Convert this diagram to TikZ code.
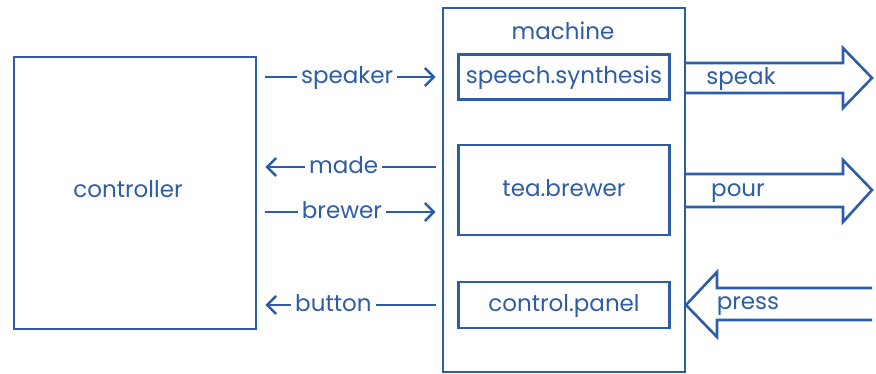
\documentclass[tikz,border=0pt]{standalone}
\usepackage{fontspec}
\setmainfont{Poppins}
\usepackage{tikz}
\usetikzlibrary{positioning, calc, arrows.meta}
\definecolor{inkBlue}{HTML}{2D5DA6}

\begin{document}
\begin{tikzpicture}[x=1pt, y=-1pt, line width=2.6pt, color=inkBlue,
    font=\fontsize{23}{26}\selectfont,
    every node/.style={text height=12.5pt, text depth=0pt},
    box/.style={draw, minimum width=211pt, minimum height=45pt, inner sep=0pt},
    flow/.style={-{Straight Barb[length=9pt, width=18pt, line width=2.6pt]}},
    lbl/.style={fill=white, inner xsep=4pt, inner ysep=3pt}]
    \useasboundingbox (0,0) rectangle (876,374);

    % the two blocks
    \node[draw, minimum width=242pt, minimum height=272pt] (controller) at (135,193) {};
    \node (controllerLbl) at (128,191) {controller};
    \node[draw, minimum width=242pt, minimum height=364pt] (machine) at (564,190) {};
    \node (machineLbl) at (563,33) {machine};

    \node[box] (synth) at (564,77) {speech.synthesis};
    \node[box, minimum height=90pt] (brewer) at (564,190) {tea.brewer};
    \node[box, minimum height=46pt] (panel) at (564,305) {control.panel};

    % wires between them
    \coordinate (cR) at ($(controller.east)+(8,0)$);
    \coordinate (mL) at ($(machine.west)+(-6,0)$);
    \coordinate (madeY) at ($(brewer.west)+(0,-23)$);
    \coordinate (brewY) at ($(brewer.west)+(0,22)$);

    \draw[flow] (cR |- synth) -- node[lbl, pos=0.48] {speaker} (mL |- synth);
    \draw[flow] (mL |- madeY) -- node[lbl, pos=0.54] {made} (cR |- madeY);
    \draw[flow] (cR |- brewY) -- node[lbl, pos=0.45] {brewer} (mL |- brewY);
    \draw[flow] (mL |- panel) -- node[lbl, pos=0.6] {button} (cR |- panel);

    % outside world
    \draw (685,63) -- (843,63) -- (843,48) -- (872,78) -- (843,108) -- (843,93) -- (685,93);
    \node (speakLbl) at (741,78) {speak};
    \draw (685,174) -- (843,174) -- (843,160) -- (872,190) -- (843,222) -- (843,207) -- (685,207);
    \node (pourLbl) at (738,190) {pour};
    \draw (872,288) -- (717,288) -- (717,272) -- (686,305) -- (717,337) -- (717,320) -- (872,320);
    \node (pressLbl) at (748,303) {press};
\end{tikzpicture}
\end{document}
